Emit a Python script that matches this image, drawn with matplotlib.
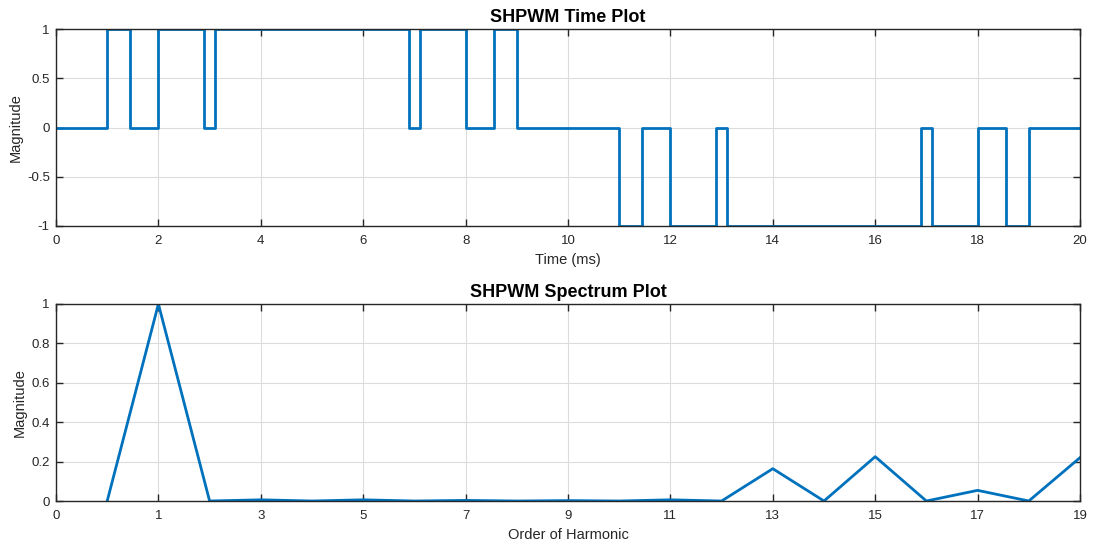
import matplotlib
matplotlib.use("Agg")
import matplotlib.pyplot as plt
import numpy as np

plt.rcParams['font.family'] = ['Liberation Sans', 'DejaVu Sans']

# ---- data ----
switch_times = [0, 1.0, 1.45, 2.0, 2.9, 3.1, 6.9, 7.1, 8.0, 8.55, 9.0,
                11.0, 11.45, 12.0, 12.9, 13.1, 16.9, 17.1, 18.0, 18.55, 19.0, 20]
levels = [0, 1, 0, 1, 0, 1, 0, 1, 0, 1, 0,
          -1, 0, -1, 0, -1, 0, -1, 0, -1, 0, 0]

harmonic_order = list(range(0, 20))
harmonic_mag = [0, 1.0, 0, 0.006, 0, 0.006, 0, 0.003, 0, 0.002,
                0, 0.006, 0, 0.164, 0, 0.225, 0, 0.054, 0, 0.22]
harm_tick_labels = ["0", "1", "3", "5", "7", "9", "11", "13", "15", "17", "19"]

line_color = "#0072BD"
axis_color = "#262626"

fig = plt.figure(figsize=(10.93, 5.47), dpi=100)
W, H = 1093, 547
ax1 = fig.add_axes([56 / W, 1 - 226 / H, (1080 - 56) / W, (226 - 29) / H])
ax2 = fig.add_axes([56 / W, 1 - 501 / H, (1080 - 56) / W, (501 - 304) / H])


def style(ax):
    for s in ax.spines.values():
        s.set_color(axis_color)
        s.set_linewidth(1.0)
    ax.tick_params(direction='in', top=True, right=True, colors=axis_color,
                   labelsize=9.5, length=5, width=1, labelcolor=axis_color)
    ax.tick_params(axis='x', pad=6.5)
    ax.tick_params(axis='y', pad=4.5)
    ax.grid(True, color='#dcdcdc', linewidth=0.8)
    ax.set_axisbelow(True)


ax1.step(switch_times, levels, where='post', color=line_color, linewidth=2)
ax1.set_xlim(0, 20)
ax1.set_ylim(-1, 1)
ax1.set_xticks(np.arange(0, 21, 2))
ax1.set_yticks([-1, -0.5, 0, 0.5, 1])
ax1.set_yticklabels(["-1", "-0.5", "0", "0.5", "1"])
ax1.set_xlabel("Time (ms)", fontsize=10.5, color=axis_color, labelpad=4)
ax1.set_ylabel("Magnitude", fontsize=10.5, color=axis_color, labelpad=3)
ax1.set_title("SHPWM Time Plot", fontsize=13, fontweight='bold', pad=5)
style(ax1)

positions = [h + 1 for h in harmonic_order]
ax2.plot(positions, harmonic_mag, color=line_color, linewidth=2)
ax2.set_xlim(0, 20)
ax2.set_ylim(0, 1)
ax2.set_xticks(np.arange(0, 21, 2))
ax2.set_xticklabels(harm_tick_labels)
ax2.set_yticks([0, 0.2, 0.4, 0.6, 0.8, 1])
ax2.set_yticklabels(["0", "0.2", "0.4", "0.6", "0.8", "1"])
ax2.set_xlabel("Order of Harmonic", fontsize=10.5, color=axis_color, labelpad=4)
ax2.set_ylabel("Magnitude", fontsize=10.5, color=axis_color, labelpad=3)
ax2.set_title("SHPWM Spectrum Plot", fontsize=13, fontweight='bold', pad=5)
style(ax2)

fig.savefig("out.png", dpi=100)
